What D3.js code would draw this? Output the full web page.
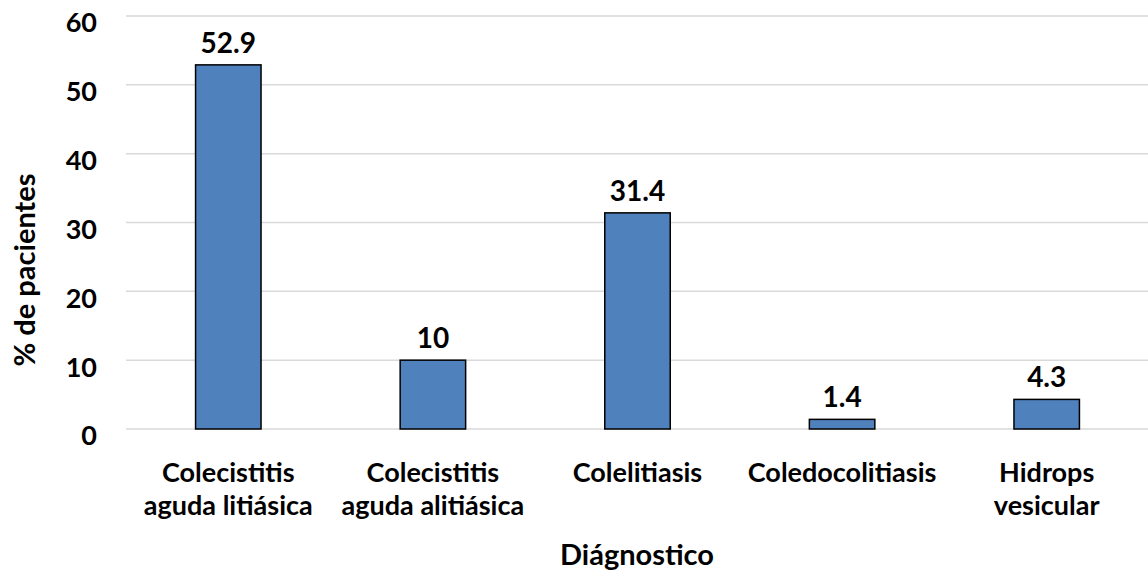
<!DOCTYPE html>
<html>
<head>
<meta charset="utf-8">
<script src="https://cdn.jsdelivr.net/npm/d3@7"></script>
<style>
  body { margin: 0; background: #fff; }
  text { font-family: Lato, "Open Sans", sans-serif; font-weight: bold; fill: #000; }
</style>
</head>
<body>
<svg id="chart" width="1148" height="571"></svg>
<script>
// --- DATA ---
const categories = [
  ["Colecistitis", "aguda litiásica"],
  ["Colecistitis", "aguda alitiásica"],
  ["Colelitiasis"],
  ["Coledocolitiasis"],
  ["Hidrops", "vesicular"]
];
const values = [52.9, 10, 31.4, 1.4, 4.3];
const yTicks = [0, 10, 20, 30, 40, 50, 60];

// --- LAYOUT ---
const svg = d3.select("#chart");
const plotLeft = 126, plotRight = 1149, plotTop = 16, plotBottom = 429;

const x = d3.scaleBand()
  .domain(d3.range(values.length))
  .range([plotLeft, plotRight])
  .paddingInner(0.68)
  .paddingOuter(0.34);

const y = d3.scaleLinear().domain([0, 60]).range([plotBottom, plotTop]);

// gridlines
svg.append("g")
  .selectAll("line").data(yTicks).join("line")
  .attr("x1", plotLeft).attr("x2", plotRight)
  .attr("y1", d => y(d)).attr("y2", d => y(d))
  .attr("stroke", "#d9d9d9").attr("stroke-width", 1.5);

// y tick labels (sit a little below their gridline, as in the original)
svg.append("g")
  .selectAll("text").data(yTicks).join("text")
  .attr("x", 97).attr("y", d => y(d) + 7)
  .attr("dy", "0.35em")
  .attr("text-anchor", "end")
  .style("font-size", "27px")
  .text(d => d);

// bars
svg.append("g")
  .selectAll("rect").data(values).join("rect")
  .attr("x", (d, i) => x(i))
  .attr("width", x.bandwidth())
  .attr("y", d => y(d))
  .attr("height", d => y(0) - y(d))
  .attr("fill", "#4f81bd")
  .attr("stroke", "#000").attr("stroke-width", 1.5);

// value labels
svg.append("g")
  .selectAll("text").data(values).join("text")
  .attr("x", (d, i) => x(i) + x.bandwidth() / 2)
  .attr("y", d => y(d) - 12)
  .attr("text-anchor", "middle")
  .style("font-size", "28px")
  .text(d => d);

// category labels
const cat = svg.append("g")
  .selectAll("text").data(categories).join("text")
  .attr("x", (d, i) => x(i) + x.bandwidth() / 2)
  .attr("y", 482)
  .attr("text-anchor", "middle")
  .style("font-size", "27px");
cat.selectAll("tspan").data(d => d).join("tspan")
  .attr("x", function () { return d3.select(this.parentNode).attr("x"); })
  .attr("dy", (d, i) => i === 0 ? 0 : 33)
  .text(d => d);

// axis titles
svg.append("text")
  .attr("x", (plotLeft + plotRight) / 2 - 0.5).attr("y", 565)
  .attr("text-anchor", "middle")
  .style("font-size", "29px")
  .text("Diágnostico");

svg.append("text")
  .attr("transform", `translate(35, 270) rotate(-90)`)
  .attr("text-anchor", "middle")
  .style("font-size", "29px")
  .text("% de pacientes");
</script>
</body>
</html>
